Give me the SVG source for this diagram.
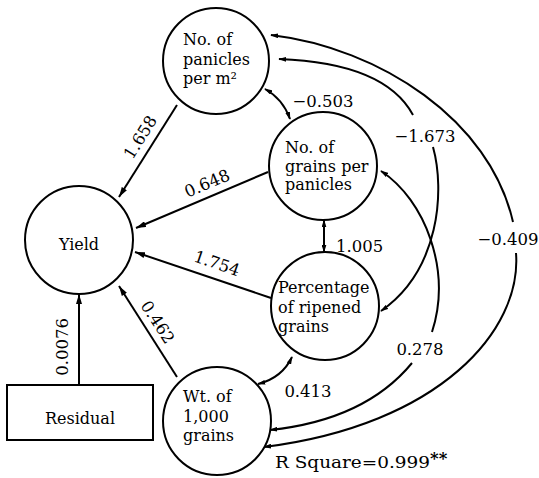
<svg xmlns="http://www.w3.org/2000/svg" width="539" height="478" viewBox="0 0 539 478">
<style>
.node{fill:#fff;stroke:#000;stroke-width:2}
.t{font-family:"DejaVu Serif","Liberation Serif",serif;font-size:16px;fill:#000}
.n{font-family:"DejaVu Serif","Liberation Serif",serif;font-size:16.5px;fill:#000}
.c{fill:none;stroke:#000;stroke-width:2}
</style>
<defs>
<marker id="ah" viewBox="0 0 10 6" refX="10" refY="3" markerWidth="10" markerHeight="6" markerUnits="userSpaceOnUse" orient="auto-start-reverse"><path d="M0,0 L10,3 L0,6 z" fill="#000"/></marker>
<marker id="sm" viewBox="0 0 10 6" refX="9" refY="3" markerWidth="8" markerHeight="5" markerUnits="userSpaceOnUse" orient="auto-start-reverse"><path d="M0,0 L10,3 L0,6 z" fill="#000"/></marker>
</defs>
<g id="connectors">
<path class="c" d="M177,105 L119,197" marker-end="url(#ah)"/>
<path class="c" d="M268,172 L136,228" marker-end="url(#ah)"/>
<path class="c" d="M271,298 L135,252" marker-end="url(#ah)"/>
<path class="c" d="M177,377 L119,286" marker-end="url(#ah)"/>
<path class="c" d="M79,385 L79,294" marker-end="url(#ah)"/>
<path class="c" d="M265,89 Q283,99 290,119" marker-start="url(#sm)" marker-end="url(#sm)"/>
<path class="c" d="M324,220 L324,252" marker-start="url(#sm)" marker-end="url(#sm)"/>
<path class="c" d="M292,357 Q282,378 258,384" marker-start="url(#sm)" marker-end="url(#sm)"/>
<path class="c" d="M413,115 Q385,63 279,59" marker-end="url(#sm)"/>
<path class="c" d="M433,147 C445,190 440,270 381,311" marker-end="url(#sm)"/>
<path class="c" d="M513,222 C490,120 380,48 271,35" marker-end="url(#sm)"/>
<path class="c" d="M516,253 C522,330 440,425 264,447" marker-end="url(#sm)"/>
<path class="c" d="M432,332 C452,270 425,200 381,171" marker-end="url(#sm)"/>
<path class="c" d="M412,363 Q365,420 270,430" marker-end="url(#sm)"/>
</g>
<g id="labels">
<text class="n" text-anchor="middle" transform="translate(140,137) rotate(-58)" y="6">1.658</text>
<text class="n" text-anchor="middle" transform="translate(207,183) rotate(-23)" y="6">0.648</text>
<text class="n" text-anchor="middle" transform="translate(217,263) rotate(19)" y="6">1.754</text>
<text class="n" text-anchor="middle" transform="translate(158,322) rotate(57)" y="6">0.462</text>
<text class="n" text-anchor="middle" transform="translate(62,347) rotate(-90)" y="6">0.0076</text>
<text class="n" x="323" y="107" text-anchor="middle">−0.503</text>
<text class="n" x="425" y="142" text-anchor="middle">−1.673</text>
<text class="n" x="336" y="252">1.005</text>
<text class="n" x="508" y="245" text-anchor="middle">−0.409</text>
<text class="n" x="420" y="355" text-anchor="middle">0.278</text>
<text class="n" x="308" y="397" text-anchor="middle">0.413</text>
<text class="n" x="275" y="468" textLength="155" lengthAdjust="spacingAndGlyphs">R Square=0.999</text>
<text class="n" x="430" y="464" font-size="10" font-weight="bold">**</text>
</g>
<g id="panicles">
<circle class="node" cx="216" cy="61" r="53"/>
<text class="t" x="183" y="45">No. of</text>
<text class="t" x="183" y="65">panicles</text>
<text class="t" x="183" y="84">per m²</text>
</g>
<g id="grains">
<circle class="node" cx="323" cy="166" r="54"/>
<text class="t" x="285" y="153">No. of</text>
<text class="t" x="285" y="172">grains per</text>
<text class="t" x="285" y="190">panicles</text>
</g>
<g id="yield">
<circle class="node" cx="79" cy="240" r="54"/>
<text class="t" x="79" y="250" text-anchor="middle" font-size="18">Yield</text>
</g>
<g id="percentage">
<circle class="node" cx="325" cy="306" r="54"/>
<text class="t" x="278" y="293">Percentage</text>
<text class="t" x="278" y="313">of ripened</text>
<text class="t" x="278" y="332">grains</text>
</g>
<g id="weight">
<circle class="node" cx="217" cy="421" r="54"/>
<text class="t" x="183" y="402">Wt. of</text>
<text class="t" x="183" y="422">1,000</text>
<text class="t" x="183" y="441">grains</text>
</g>
<g id="residual">
<rect class="node" x="7" y="385" width="146" height="55"/>
<text class="t" x="80" y="424" text-anchor="middle" font-size="17.5">Residual</text>
</g>
</svg>
